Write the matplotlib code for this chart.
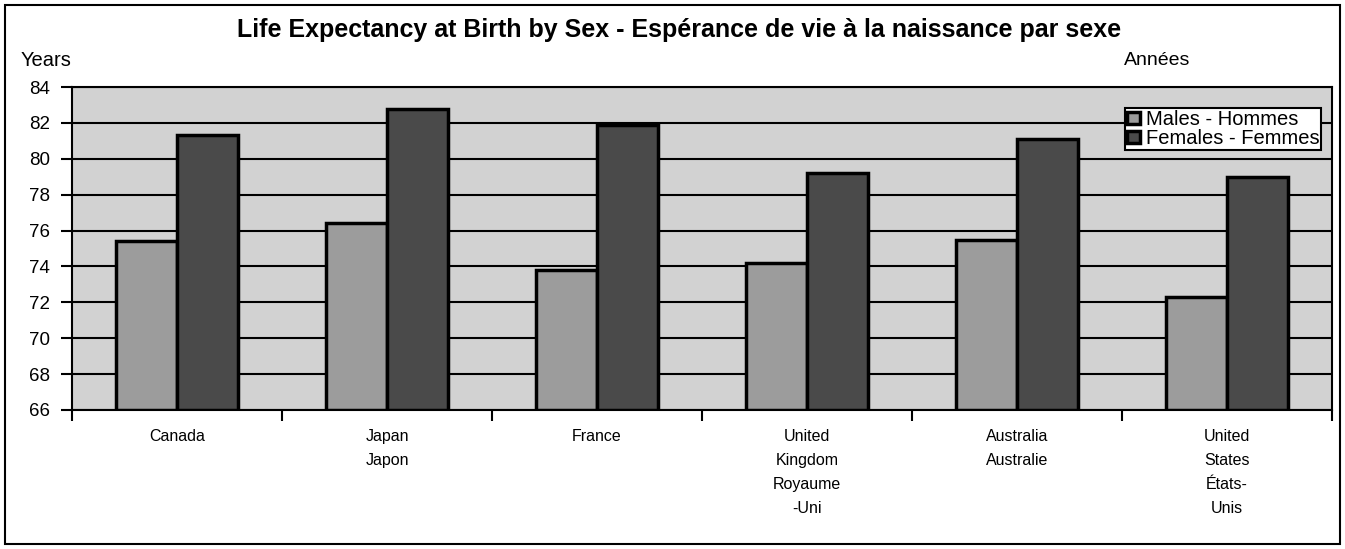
import matplotlib.pyplot as plt
from matplotlib.patches import Rectangle
import numpy as np

plt.rcParams['font.family'] = ['Liberation Sans', 'DejaVu Sans']

# data
countries = ['Canada', 'Japan\nJapon', 'France', 'United\nKingdom\nRoyaume\n-Uni',
             'Australia\nAustralie', 'United\nStates\nÉtats-\nUnis']
males = [75.4, 76.4, 73.8, 74.2, 75.5, 72.3]
females = [81.3, 82.8, 81.9, 79.2, 81.1, 79.0]
yticks = [66, 68, 70, 72, 74, 76, 78, 80, 82, 84]

fig = plt.figure(figsize=(13.45, 5.49), dpi=100)
ax = fig.add_axes([0.0535, 0.2532, 0.9368, 0.5883])
ax.set_facecolor('#d2d2d2')

x = np.arange(len(countries))
barWidth = 0.29
ax.bar(x - barWidth, [m - 66 for m in males], bottom=66, width=barWidth, align='edge',
       color='#9c9c9c', edgecolor='black', linewidth=2.5, label='Males - Hommes', zorder=3)
ax.bar(x, [f - 66 for f in females], bottom=66, width=barWidth, align='edge',
       color='#4a4a4a', edgecolor='black', linewidth=2.5, label='Females - Femmes', zorder=3)

ax.set_xlim(-0.5, len(countries) - 0.5)
ax.set_ylim(66, 84)
ax.set_yticks(yticks)
ax.set_yticklabels([str(t) for t in yticks], fontsize=13.5)
ax.yaxis.grid(True, color='black', linewidth=1.5, zorder=1)
ax.set_axisbelow(True)

# category boundaries get the ticks, labels sit in the middle
ax.set_xticks(np.arange(len(countries) + 1) - 0.5)
ax.set_xticklabels([])
ax.set_xticks(x, minor=True)
ax.set_xticklabels(countries, minor=True, fontsize=11.5, linespacing=1.75, va='top')
ax.tick_params(axis='x', which='minor', length=0, pad=14)
ax.tick_params(axis='x', which='major', length=8, width=1.5, direction='out')
ax.tick_params(axis='y', length=8, width=1.5, direction='out', pad=8)
for s in ax.spines.values():
    s.set_linewidth(1.5)

leg = ax.legend(loc='upper right', bbox_to_anchor=(0.9915, 0.935), fontsize=14.5,
                frameon=True, fancybox=False, framealpha=1, edgecolor='black',
                handlelength=0.6, handleheight=0.6, handletextpad=0.3,
                borderpad=0.1, labelspacing=0.0, borderaxespad=0)
leg.get_frame().set_linewidth(1.5)

fig.text(0.505, 0.945, 'Life Expectancy at Birth by Sex - Espérance de vie à la naissance par sexe',
         ha='center', va='center', fontsize=18, fontweight='bold')
fig.text(0.015, 0.89, 'Years', ha='left', va='center', fontsize=14.5)
fig.text(0.836, 0.89, 'Années', ha='left', va='center', fontsize=14)

fig.patches.append(Rectangle((0.004, 0.009), 0.992, 0.982, transform=fig.transFigure,
                             fill=False, edgecolor='black', linewidth=1.5))

fig.savefig('out.png', dpi=100)
